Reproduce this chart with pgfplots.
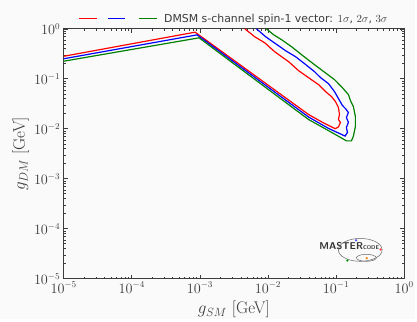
\documentclass[border=0pt]{standalone}
\usepackage{pgfplots}
\pgfplotsset{compat=1.18}
\usepackage{fontspec}
\newfontfamily\dejavu{DejaVu Sans}
\definecolor{bgc}{RGB}{250,250,250}
\definecolor{axc}{RGB}{60,60,60}
\definecolor{cred}{RGB}{255,0,0}
\definecolor{cblue}{RGB}{0,0,255}
\definecolor{cgreen}{RGB}{0,128,0}
\begin{document}
\begin{tikzpicture}
\fill[bgc] (-64bp,-40bp) rectangle (353bp,280bp);
\begin{axis}[
  scale only axis,
  width=342bp, height=251bp,
  xmode=log, ymode=log,
  xmin=1e-5, xmax=1, ymin=1e-5, ymax=1,
  axis line style={axc, line width=1.1bp},
  tick style={axc, line width=0.7bp},
  major tick length=4bp, minor tick length=2bp,
  tick align=inside,
  tick label style={font=\fontsize{13.5}{15}\selectfont, text=axc},
  label style={font=\fontsize{17}{19}\selectfont, text=axc},
  xlabel={$g_{SM}$ [GeV]},
  ylabel={$g_{DM}$ [GeV]},
  xlabel style={yshift=-1bp},
  ylabel style={yshift=-2bp},
  legend style={at={(0.5,1)}, anchor=south, yshift=1bp, draw=none, fill=none,
    font=\dejavu\fontsize{11}{13}\selectfont, text=axc},
  legend cell align=left,
]
\addplot[cred, line width=1.2bp, forget plot] coordinates {
(1e-5,0.283) (8.51e-4,0.859) (0.0394,0.01936) (0.0655,0.01312) (0.0970,0.01005)
(0.1084,0.01091) (0.1159,0.01341) (0.1084,0.01538) (0.1122,0.01936) (0.1084,0.02669)
(0.0979,0.03515) (0.0857,0.04416) (0.0700,0.05559) (0.0553,0.0766) (0.0394,0.1057)
(0.02818,0.1456) (0.02013,0.2203) (0.01256,0.3483) (0.00897,0.526) (0.00641,0.693)
(0.00458,1.0)
};
\addplot[cblue, line width=1.2bp, forget plot] coordinates {
(1e-5,0.2524) (9.10e-4,0.7592) (0.0394,0.01726) (0.0774,0.01019) (0.1358,0.00716)
(0.1469,0.00848) (0.1419,0.01067) (0.1518,0.01341) (0.1419,0.01687) (0.1518,0.02122)
(0.1371,0.02547) (0.1241,0.02924) (0.1084,0.04036) (0.0948,0.05559) (0.0774,0.0802)
(0.0592,0.1057) (0.0483,0.1390) (0.0345,0.2009) (0.02547,0.2767) (0.01820,0.3647)
(0.01300,0.5024) (0.00929,0.693) (0.00679,1.0)
};
\addplot[cgreen, line width=1.2bp,
  legend image code/.code={
    \draw[cred, line width=1.2bp] (0bp,0bp) -- (18bp,0bp);
    \draw[cblue, line width=1.2bp] (29bp,0bp) -- (46bp,0bp);
    \draw[cgreen, line width=1.2bp] (60bp,0bp) -- (78bp,0bp);
    \path (83bp,0bp);
  }] coordinates {
(1e-5,0.2254) (9.73e-4,0.662) (0.0394,0.01538) (0.0916,0.00809) (0.1419,0.00574)
(0.1679,0.00574) (0.1795,0.00706) (0.1923,0.01117) (0.1923,0.01766) (0.1795,0.02793)
(0.1626,0.03681) (0.1518,0.04842) (0.1199,0.06998) (0.0948,0.0964) (0.0724,0.1270)
(0.0553,0.1671) (0.0423,0.2203) (0.0312,0.3034) (0.02228,0.4379) (0.01592,0.6039)
(0.01216,0.7592) (0.00951,1.0)
};
\addlegendentry{DMSM s-channel spin-1 vector: $1\sigma$, $2\sigma$, $3\sigma$}
% mastercode logo
\node[font=\sffamily\bfseries\fontsize{10}{11}\selectfont, text=black!80, anchor=base west, inner sep=0pt]
  at (rel axis cs:0.7506,0.117) {MASTER\fontsize{5.5}{6}\selectfont CODE};
\draw[black!60, line width=0.5bp] (rel axis cs:0.871,0.1155) ellipse [x radius=22bp, y radius=11.5bp];
\draw[black!60, line width=0.5bp] (rel axis cs:0.889,0.0837) ellipse [x radius=10bp, y radius=3.5bp];
\fill[blue!70] (rel axis cs:0.859,0.154) circle (1.3bp);
\fill[red!80] (rel axis cs:0.931,0.117) circle (1.3bp);
\fill[green!60!black] (rel axis cs:0.833,0.073) circle (1.3bp);
\fill[orange] (rel axis cs:0.890,0.0825) circle (1.3bp);
\end{axis}
\end{tikzpicture}
\end{document}
